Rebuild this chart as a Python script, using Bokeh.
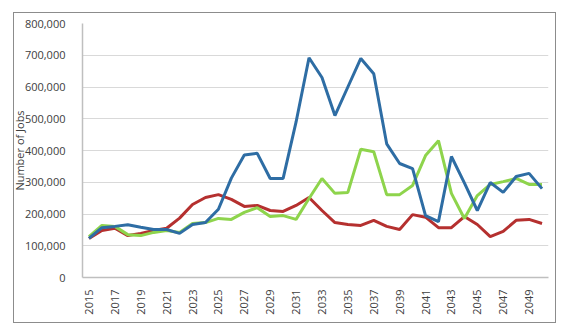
import math
from bokeh.plotting import figure
from bokeh.models import Range1d, FixedTicker, NumeralTickFormatter, CustomJSTickFormatter, InlineStyleSheet
from bokeh.embed import file_html
from bokeh.resources import INLINE

years = list(range(2015, 2051))
blue = [123000, 157000, 161000, 166000, 158000, 151000, 151000, 139000, 167000, 173000,
        215000, 313000, 386000, 391000, 312000, 312000, 490000, 692000, 630000, 510000,
        600000, 690000, 642000, 421000, 359000, 343000, 195000, 176000, 381000, 298000,
        211000, 299000, 268000, 318000, 328000, 280000]
green = [129000, 164000, 161000, 135000, 132000, 142000, 148000, 142000, 170000, 173000,
         186000, 183000, 205000, 220000, 192000, 195000, 183000, 249000, 312000, 265000,
         268000, 404000, 396000, 261000, 261000, 290000, 384000, 431000, 265000, 186000,
         258000, 293000, 302000, 312000, 293000, 293000]
red = [123000, 148000, 155000, 132000, 139000, 148000, 155000, 187000, 230000, 252000,
       261000, 246000, 224000, 227000, 211000, 208000, 227000, 252000, 211000, 173000,
       167000, 164000, 180000, 161000, 151000, 198000, 190000, 157000, 157000, 192000,
       167000, 129000, 145000, 180000, 183000, 170000]
y_ticks = [0, 100000, 200000, 300000, 400000, 500000, 600000, 700000, 800000]
x_ticks = list(range(2015, 2051, 2))
y_label = "Number of Jobs"

FONT = "Open Sans"

p = figure(width=548, height=311, output_backend="svg", toolbar_location=None,
           x_range=Range1d(2014.5, 2050.5), y_range=Range1d(0, 800000),
           min_border_left=74, min_border_right=8, min_border_top=11, min_border_bottom=46)
p.margin = (12, 0, 0, 8)
p.stylesheets = [InlineStyleSheet(css=(
    ":host { position: relative; }"
    ":host::after { content: ''; position: absolute; left: 5px; top: 0; right: 0; bottom: 0;"
    " border: 1px solid #8c8c8c; box-sizing: border-box; pointer-events: none; }"))]
p.outline_line_color = None
p.background_fill_color = "white"
p.border_fill_color = "white"

p.line(years, red, line_color="#B5302F", line_width=3)
p.line(years, green, line_color="#8ED44C", line_width=3)
p.line(years, blue, line_color="#2E6DA4", line_width=3)

p.xgrid.grid_line_color = None
p.ygrid.grid_line_color = "#D9D9D9"
p.ygrid.grid_line_width = 1

p.yaxis.ticker = FixedTicker(ticks=y_ticks)
p.yaxis.formatter = NumeralTickFormatter(format="0,0")
p.yaxis.axis_label = y_label
p.yaxis.axis_label_standoff = -5
p.yaxis.axis_label_text_font = FONT
p.yaxis.axis_label_text_font_style = "normal"
p.yaxis.axis_label_text_font_size = "11px"
p.yaxis.axis_label_text_color = "#404040"
p.yaxis.major_label_standoff = 11
p.yaxis.minor_tick_line_color = None
p.yaxis.major_tick_line_color = None

p.xaxis.ticker = FixedTicker(ticks=x_ticks)
p.xaxis.formatter = CustomJSTickFormatter(code="return String(tick);")
p.xaxis.major_label_orientation = math.pi / 2
p.xaxis.major_label_standoff = 6
p.xaxis.minor_tick_line_color = None
p.xaxis.major_tick_line_color = None

for ax in (p.xaxis[0], p.yaxis[0]):
    ax.major_label_text_font = FONT
    ax.major_label_text_font_size = "11px"
    ax.major_label_text_color = "#404040"
    ax.axis_line_color = "#BFBFBF"
    ax.axis_line_width = 1.5

open("out.html", "w").write(file_html(p, INLINE))
